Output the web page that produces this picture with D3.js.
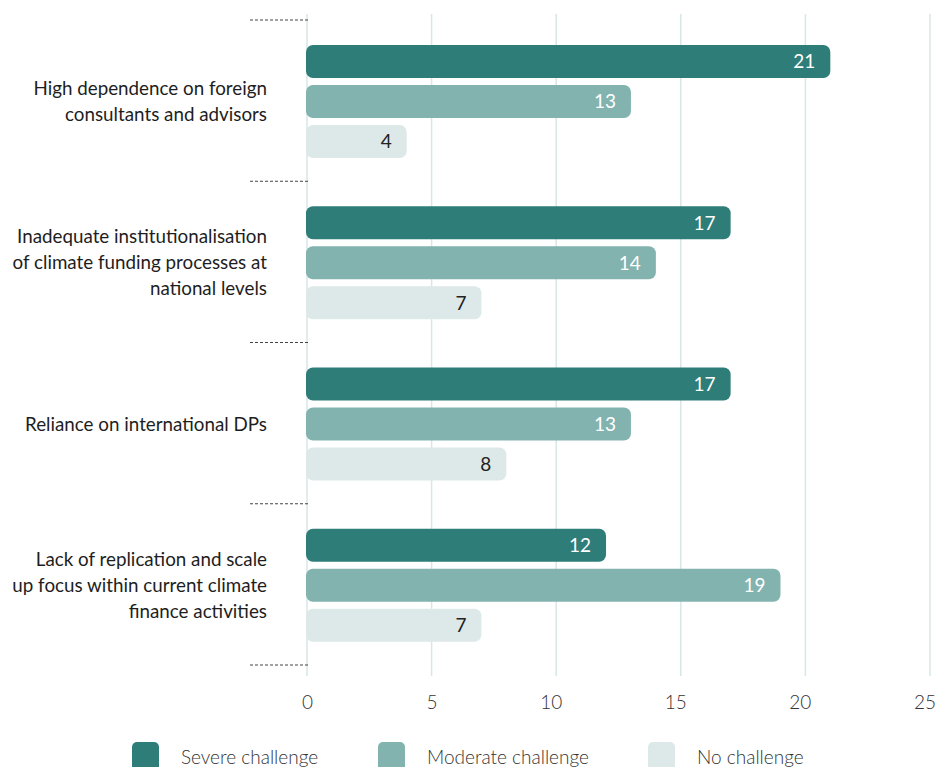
<!DOCTYPE html>
<html>
<head>
<meta charset="utf-8">
<script src="https://cdn.jsdelivr.net/npm/d3@7/dist/d3.min.js"></script>
<style>
  html, body { margin: 0; padding: 0; background: #fff; }
  svg { display: block; font-family: Lato, "Noto Sans", sans-serif; }
</style>
</head>
<body>
<svg id="chart" width="937" height="767"></svg>
<script>
// Survey responses per challenge
const categories = [
  ["High dependence on foreign", "consultants and advisors"],
  ["Inadequate institutionalisation", "of climate funding processes at", "national levels"],
  ["Reliance on international DPs"],
  ["Lack of replication and scale", "up focus within current climate", "finance activities"]
];
const seriesNames = ["Severe challenge", "Moderate challenge", "No challenge"];
const severe   = [21, 17, 17, 12];
const moderate = [13, 14, 13, 19];
const none     = [4, 7, 8, 7];
const xTicks = [0, 5, 10, 15, 20, 25];

const colors = ["#2e7d78", "#83b3af", "#dde9e8"];
const labelColors = ["#ffffff", "#ffffff", "#222222"];
const series = [severe, moderate, none];
const FONT = "Lato, 'Noto Sans', sans-serif";

const svg = d3.select("#chart");

const x = d3.scaleLinear().domain([0, 25]).range([307, 930]);
const y0 = d3.scaleBand().domain(d3.range(categories.length)).range([20, 665]).paddingInner(0).paddingOuter(0);
const y1 = d3.scaleBand().domain(d3.range(series.length)).range([25, 138]).paddingInner(0.175).paddingOuter(0);

// vertical gridlines
svg.append("g")
  .selectAll("line")
  .data(xTicks)
  .join("line")
  .attr("x1", d => x(d)).attr("x2", d => x(d))
  .attr("y1", 14).attr("y2", 676)
  .attr("stroke", "#d7e7e6")
  .attr("stroke-width", 1.5);

// dashed group separators
const seps = d3.range(categories.length + 1).map(i => i === categories.length ? y0.range()[1] : y0(i));
svg.append("g")
  .selectAll("line")
  .data(seps)
  .join("line")
  .attr("x1", 250).attr("x2", 310)
  .attr("y1", d => d).attr("y2", d => d)
  .attr("stroke", "#444")
  .attr("stroke-width", 1)
  .attr("stroke-dasharray", "3,2");

// bars
const groups = svg.append("g")
  .selectAll("g")
  .data(categories)
  .join("g")
  .attr("transform", (d, i) => `translate(0,${y0(i)})`);

groups.each(function(cat, ci) {
  const g = d3.select(this);
  series.forEach((vals, si) => {
    const v = vals[ci];
    g.append("rect")
      .attr("x", x(0) - 1)
      .attr("y", y1(si))
      .attr("width", x(v) - x(0) + 1)
      .attr("height", y1.bandwidth())
      .attr("rx", 7)
      .attr("fill", colors[si]);
    g.append("text")
      .attr("x", x(v) - 15)
      .attr("y", y1(si) + y1.bandwidth() / 2)
      .attr("dy", "0.36em")
      .attr("text-anchor", "end")
      .attr("fill", labelColors[si])
      .attr("font-size", 19)
      .text(v);
  });

  // category label
  const lh = 26;
  const cy = y1(1) + y1.bandwidth() / 2;
  const startY = cy - (cat.length - 1) * lh / 2;
  const t = g.append("text")
    .attr("text-anchor", "end")
    .attr("fill", "#1e1e1e")
    .attr("font-size", 18.8);
  cat.forEach((line, li) => {
    t.append("tspan")
      .attr("x", 267)
      .attr("y", startY + li * lh)
      .attr("dy", "0.35em")
      .text(line);
  });
});

// x axis tick labels
const axis = d3.axisBottom(x).tickValues(xTicks).tickSize(0).tickPadding(0);
const ax = svg.append("g").attr("transform", "translate(0,695)").call(axis);
ax.select(".domain").remove();
ax.selectAll("text")
  .attr("font-family", FONT)
  .attr("font-size", 19)
  .attr("font-weight", 300)
  .attr("text-anchor", "end")
  .attr("dx", 5.5)
  .attr("fill", "#333");

// legend
const legendX = [132, 378, 648];
const legend = svg.append("g")
  .selectAll("g")
  .data(seriesNames)
  .join("g")
  .attr("transform", (d, i) => `translate(${legendX[i]},742)`);
legend.append("rect")
  .attr("width", 27).attr("height", 30).attr("rx", 5)
  .attr("fill", (d, i) => colors[i]);
legend.append("text")
  .attr("x", 49).attr("y", 15)
  .attr("dy", "0.35em")
  .attr("font-size", 19)
  .attr("font-weight", 300)
  .attr("fill", "#333")
  .text(d => d);
</script>
</body>
</html>
